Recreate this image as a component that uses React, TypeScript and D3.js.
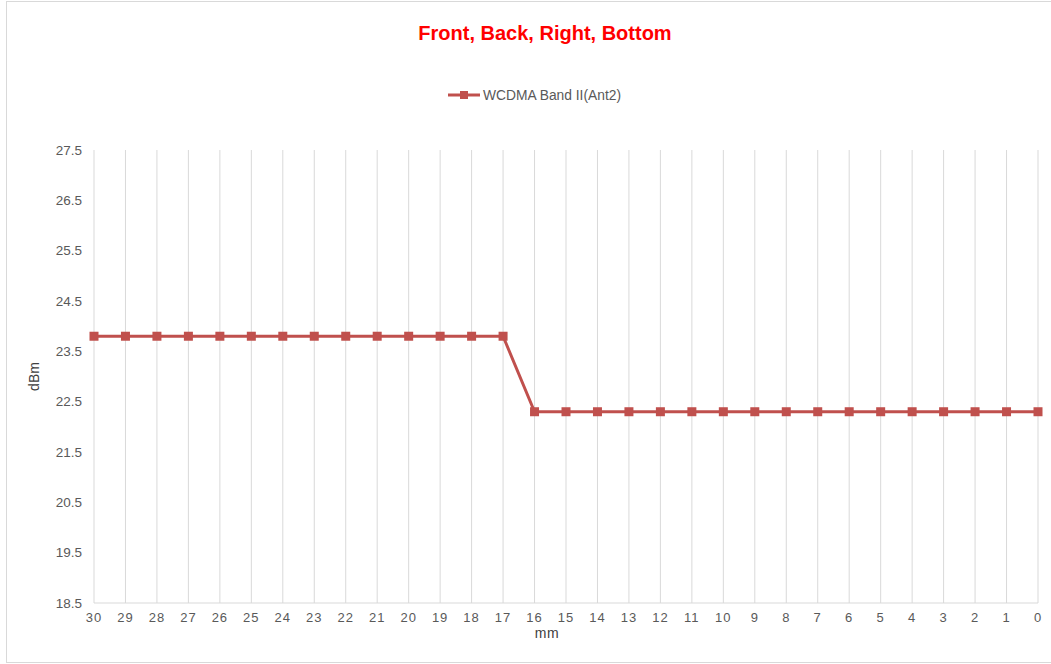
import React, { useEffect, useRef } from 'react';
import * as d3 from 'd3';

const distances = [30, 29, 28, 27, 26, 25, 24, 23, 22, 21, 20, 19, 18, 17, 16, 15, 14, 13, 12, 11, 10, 9, 8, 7, 6, 5, 4, 3, 2, 1, 0];
const powerValues = [
  23.8, 23.8, 23.8, 23.8, 23.8, 23.8, 23.8, 23.8, 23.8, 23.8, 23.8, 23.8, 23.8, 23.8,
  22.3, 22.3, 22.3, 22.3, 22.3, 22.3, 22.3, 22.3, 22.3, 22.3, 22.3, 22.3, 22.3, 22.3, 22.3, 22.3, 22.3,
];
const yTicks = [18.5, 19.5, 20.5, 21.5, 22.5, 23.5, 24.5, 25.5, 26.5, 27.5];
const seriesName = 'WCDMA Band II(Ant2)';
const chartTitle = 'Front, Back, Right, Bottom';

const width = 1051;
const height = 664;
const lineColor = '#c0504d';

const App: React.FC = () => {
  const svgRef = useRef<SVGSVGElement>(null);

  useEffect(() => {
    if (!svgRef.current) return;
    const svg = d3.select(svgRef.current);
    svg.selectAll('*').remove();

    const margin = { left: 94, right: 13, top: 150, bottom: 61 };

    // chart frame
    svg.append('rect')
      .attr('x', 6.5).attr('y', 1.5)
      .attr('width', width + 10).attr('height', 661)
      .attr('fill', '#fff').attr('stroke', '#d9d9d9').attr('stroke-width', 1);

    const x = d3.scalePoint<number>()
      .domain(distances)
      .range([margin.left, width - margin.right]);

    const y = d3.scaleLinear()
      .domain([18.5, 27.5])
      .range([height - margin.bottom, margin.top]);

    // vertical grid lines
    svg.append('g')
      .selectAll('line')
      .data(distances)
      .join('line')
      .attr('x1', d => x(d)!).attr('x2', d => x(d)!)
      .attr('y1', y(27.5)).attr('y2', y(18.5))
      .attr('stroke', '#d9d9d9').attr('stroke-width', 1);

    // x axis line
    svg.append('line')
      .attr('x1', margin.left).attr('x2', width - margin.right)
      .attr('y1', y(18.5)).attr('y2', y(18.5))
      .attr('stroke', '#d9d9d9').attr('stroke-width', 1);

    const font = 'Arial, "Liberation Sans", sans-serif';

    // y tick labels
    svg.append('g')
      .selectAll('text')
      .data(yTicks)
      .join('text')
      .attr('x', 82)
      .attr('y', d => y(d))
      .attr('dy', '0.35em')
      .attr('text-anchor', 'end')
      .attr('font-family', font)
      .attr('font-size', 13.5)
      .attr('fill', '#595959')
      .text(d => d.toFixed(1));

    // x tick labels
    svg.append('g')
      .selectAll('text')
      .data(distances)
      .join('text')
      .attr('x', d => x(d)!)
      .attr('y', 622)
      .attr('text-anchor', 'middle')
      .attr('font-family', font)
      .attr('font-size', 13)
      .attr('letter-spacing', '1px')
      .attr('fill', '#595959')
      .text(d => d);

    // axis titles
    svg.append('text')
      .attr('x', 547)
      .attr('y', 638)
      .attr('text-anchor', 'middle')
      .attr('font-family', font)
      .attr('font-size', 14)
      .attr('letter-spacing', '0.5px')
      .attr('fill', '#404040')
      .text('mm');

    svg.append('text')
      .attr('transform', `translate(39,${(y(18.5) + y(27.5)) / 2}) rotate(-90)`)
      .attr('text-anchor', 'middle')
      .attr('font-family', font)
      .attr('font-size', 14)
      .attr('fill', '#404040')
      .text('dBm');

    // title
    svg.append('text')
      .attr('x', 545)
      .attr('y', 40)
      .attr('text-anchor', 'middle')
      .attr('font-family', font)
      .attr('font-size', 20)
      .attr('font-weight', 'bold')
      .attr('fill', '#ff0000')
      .text(chartTitle);

    // legend
    const lg = svg.append('g').attr('transform', 'translate(448,95)');
    lg.append('line')
      .attr('x1', 0).attr('x2', 32).attr('y1', 0).attr('y2', 0)
      .attr('stroke', lineColor).attr('stroke-width', 3);
    lg.append('rect')
      .attr('x', 12).attr('y', -4).attr('width', 8).attr('height', 8)
      .attr('fill', lineColor);
    lg.append('text')
      .attr('x', 35).attr('y', 0).attr('dy', '0.35em')
      .attr('font-family', font)
      .attr('font-size', 13.8)
      .attr('fill', '#595959')
      .text(seriesName);

    // series line
    const data = distances.map((d, i) => ({ d, v: powerValues[i] }));
    const line = d3.line<{ d: number; v: number }>()
      .x(p => x(p.d)!)
      .y(p => y(p.v));

    svg.append('path')
      .datum(data)
      .attr('fill', 'none')
      .attr('stroke', lineColor)
      .attr('stroke-width', 3)
      .attr('stroke-linejoin', 'round')
      .attr('d', line);

    svg.append('g')
      .selectAll('rect')
      .data(data)
      .join('rect')
      .attr('x', p => x(p.d)! - 4.5)
      .attr('y', p => y(p.v) - 4.5)
      .attr('width', 9).attr('height', 9)
      .attr('fill', lineColor);
  }, []);

  return (
    <svg
      ref={svgRef}
      width={width}
      height={height}
      style={{ position: 'absolute', left: 0, top: 0, background: '#fff' }}
    />
  );
};

export default App;
